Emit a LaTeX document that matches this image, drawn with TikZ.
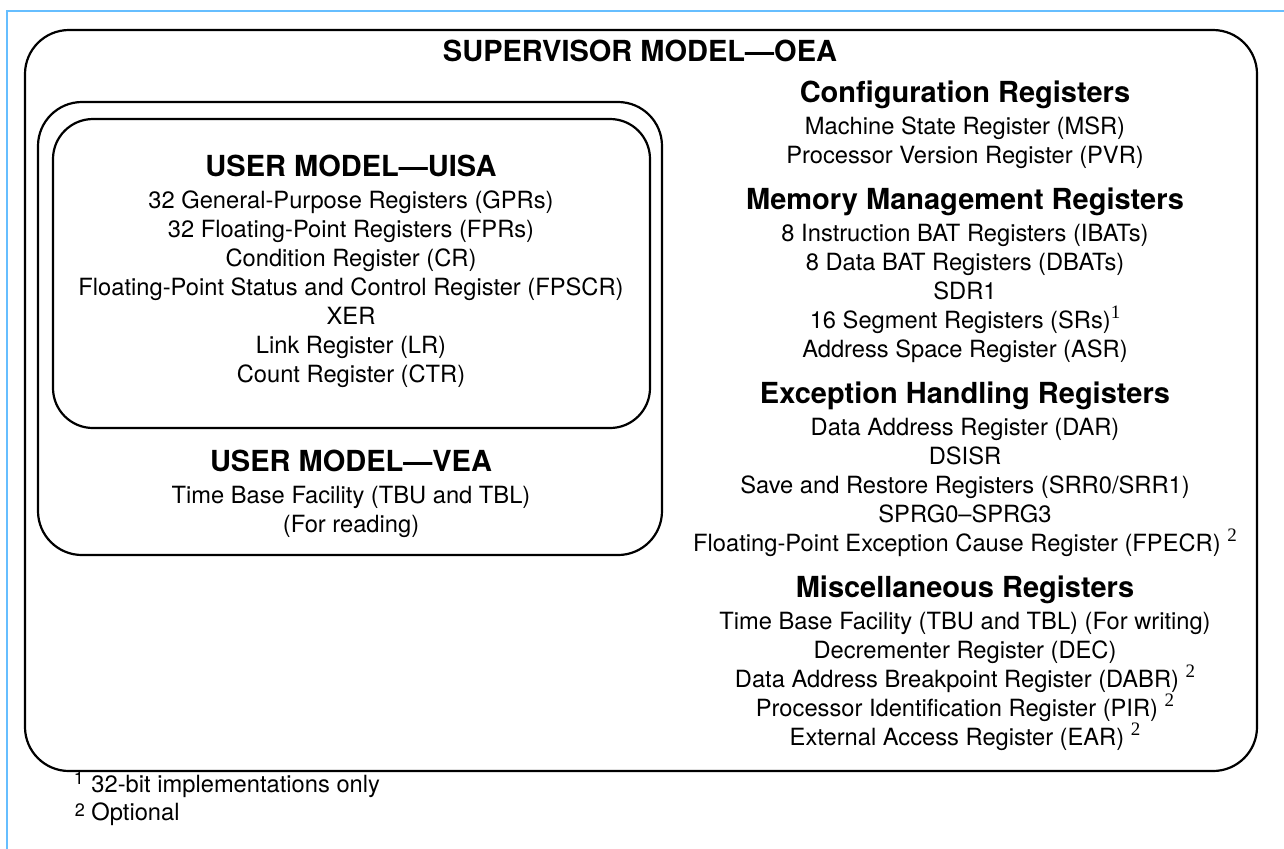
\documentclass[tikz,border=0pt]{standalone}
\usepackage{fontspec}
\setmainfont{TeX Gyre Heros}
\newfontfamily\notefont{Liberation Serif}
\usetikzlibrary{positioning}

\definecolor{pagerule}{RGB}{102,190,255}
\newcommand{\regnote}[1]{\raisebox{0.42em}{\fontsize{9.5}{10}\notefont #1}}

\tikzset{
  frame/.style={draw=pagerule, line width=1pt},
  model/.style={draw, line width=1.1pt, rounded corners=22pt},
  head/.style={font=\fontsize{14.5}{17}\selectfont\bfseries, inner sep=0pt, text height=1.05ex, text depth=0.2ex},
  reg/.style={font=\fontsize{11.85}{14}\selectfont, inner sep=0pt, text height=0.72em, text depth=0.2em},
  fnmark/.style={font=\fontsize{9}{10}\selectfont, inner sep=0pt},
}

\begin{document}
\begin{tikzpicture}[x=0.5pt, y=-0.5pt, node distance=14.5pt]
\useasboundingbox (0,0) rectangle (1284,848);
\begin{scope}
\clip (0,0) rectangle (1284,848);
\draw[frame] (7,11) rectangle (1300,870);
\end{scope}

% the three models
\draw[model] (25,30) rectangle (1257,771);
\draw[model] (38,102) rectangle (662,555);
\draw[model, rounded corners=20pt] (53,119) rectangle (650,428);

\node[head] (oea) at (640,57) {SUPERVISOR MODEL—OEA};

% user model
\node[head] (uisa) at (351,172) {USER MODEL—UISA};
\node[reg, node distance=15.5pt, below of=uisa] (gpr) {32 General-Purpose Registers (GPRs)};
\node[reg, below of=gpr] (fpr) {32 Floating-Point Registers (FPRs)};
\node[reg, below of=fpr] (cr) {Condition Register (CR)};
\node[reg, below of=cr] (fpscr) {Floating-Point Status and Control Register (FPSCR)};
\node[reg, below of=fpscr] (xer) {XER};
\node[reg, below of=xer] (lr) {Link Register (LR)};
\node[reg, below of=lr] (ctr) {Count Register (CTR)};

\node[head] (vea) at (351,467) {USER MODEL—VEA};
\node[reg, node distance=15.5pt, below of=vea] (tbr) {Time Base Facility (TBU and TBL)};
\node[reg, below of=tbr] (tbr2) {(For reading)};

% supervisor registers
\node[head] (cfg) at (965,98) {Configuration Registers};
\node[reg, node distance=15.5pt, below of=cfg] (msr) {Machine State Register (MSR)};
\node[reg, below of=msr] (pvr) {Processor Version Register (PVR)};

\node[head, node distance=23.5pt, below of=pvr] (mmu) {Memory Management Registers};
\node[reg, node distance=15.5pt, below of=mmu] (ibat) {8 Instruction BAT Registers (IBATs)};
\node[reg, below of=ibat] (dbat) {8 Data BAT Registers (DBATs)};
\node[reg, below of=dbat] (sdr) {SDR1};
\node[reg, below of=sdr] (sr) {16 Segment Registers (SRs)\regnote{1}};
\node[reg, below of=sr] (asr) {Address Space Register (ASR)};

\node[head, node distance=23.5pt, below of=asr] (exc) {Exception Handling Registers};
\node[reg, node distance=15.5pt, below of=exc] (dar) {Data Address Register (DAR)};
\node[reg, below of=dar] (dsisr) {DSISR};
\node[reg, below of=dsisr] (srr) {Save and Restore Registers (SRR0/SRR1)};
\node[reg, below of=srr] (sprg) {SPRG0–SPRG3};
\node[reg, below of=sprg] (fpecr) {Floating-Point Exception Cause Register (FPECR) \regnote{2}};

\node[head, node distance=23.5pt, below of=fpecr] (misc) {Miscellaneous Registers};
\node[reg, node distance=15.5pt, below of=misc] (tbw) {Time Base Facility (TBU and TBL) (For writing)};
\node[reg, below of=tbw] (dec) {Decrementer Register (DEC)};
\node[reg, below of=dec] (dabr) {Data Address Breakpoint Register (DABR) \regnote{2}};
\node[reg, below of=dabr] (pir) {Processor Identification Register (PIR) \regnote{2}};
\node[reg, below of=pir] (ear) {External Access Register (EAR) \regnote{2}};

% notes
\node[reg, anchor=west] (fn1) at (91,787) {32-bit implementations only};
\node[reg, anchor=west] (fn2) at (91,815) {Optional};
\node[fnmark] (m1) at (79,778) {1};
\node[fnmark] (m2) at (80,810) {2};
\end{tikzpicture}
\end{document}
